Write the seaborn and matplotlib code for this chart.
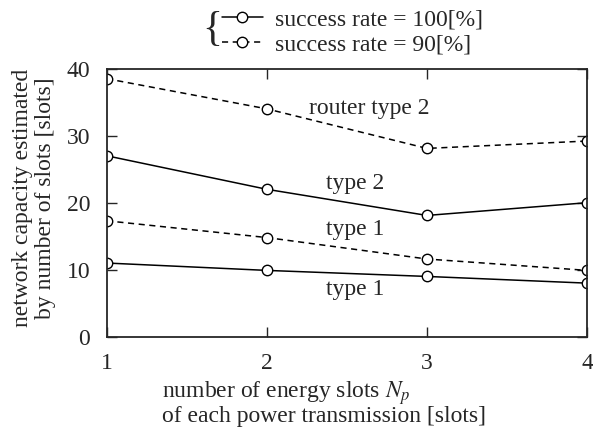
import pandas as pd
import matplotlib.pyplot as plt
import seaborn as sns

sns.set_style("ticks")
plt.rcParams['font.family'] = ['Liberation Serif', 'DejaVu Serif']
plt.rcParams['mathtext.fontset'] = 'stix'

# Data
n_p = [1, 2, 3, 4]
type1_100 = [11.0, 9.9, 9.0, 8.0]
type2_100 = [27.0, 22.0, 18.1, 20.0]
type1_90 = [17.3, 14.8, 11.6, 9.9]
type2_90 = [38.5, 34.0, 28.1, 29.2]

FS = 17

fig, ax = plt.subplots(figsize=(5.93, 4.29), dpi=100)

mk = dict(marker='o', markersize=7.5, markerfacecolor='white', markeredgecolor='black',
          markeredgewidth=1.0, color='black', linewidth=1.1)

sns.lineplot(x=n_p, y=type1_100, ax=ax, linestyle='-', label='success rate = 100[%]', **mk)
sns.lineplot(x=n_p, y=type2_100, ax=ax, linestyle='-', **mk)
sns.lineplot(x=n_p, y=type1_90, ax=ax, linestyle=(0, (4, 3)), label='success rate = 90[%]', **mk)
sns.lineplot(x=n_p, y=type2_90, ax=ax, linestyle=(0, (4, 3)), **mk)

handles, labels = ax.get_legend_handles_labels()
ax.get_legend().remove()

# curve labels
ax.text(2.64, 34.0, 'router type 2', fontsize=FS, ha='center', va='center')
ax.text(2.55, 22.9, 'type 2', fontsize=FS, ha='center', va='center')
ax.text(2.55, 16.0, 'type 1', fontsize=FS, ha='center', va='center')
ax.text(2.55, 7.0, 'type 1', fontsize=FS, ha='center', va='center')

ax.set_xlim(1, 4)
ax.set_ylim(0, 40)
ax.set_xticks(n_p)
ax.set_yticks([0, 10, 20, 30, 40])
ax.tick_params(direction='in', length=7, width=1, labelsize=FS, top=True, right=True, pad=12)
for s in ax.spines.values():
    s.set_linewidth(1.3)

# axis titles, each line placed on its own so the lines sit close together
fig.text(0.273, 0.073, 'number of energy slots $N_p$', fontsize=FS, ha='left', va='baseline')
fig.text(0.273, 0.016, 'of each power transmission [slots]', fontsize=FS, ha='left', va='baseline')
fig.text(0.038, 0.538, 'network capacity estimated', fontsize=FS, ha='center', va='center', rotation=90)
fig.text(0.076, 0.538, 'by number of slots [slots]', fontsize=FS, ha='center', va='center', rotation=90)

fig.legend(handles, labels, loc='upper left', bbox_to_anchor=(0.374, 0.98), frameon=False,
           fontsize=FS, handlelength=1.75, handletextpad=0.5, labelspacing=0.15,
           borderaxespad=0.0, borderpad=0.0)
fig.text(0.358, 0.93, '{', fontsize=30, ha='center', va='center', fontweight='light')

fig.subplots_adjust(left=0.18, right=0.99, top=0.84, bottom=0.215)
fig.savefig('out.png', dpi=100)
